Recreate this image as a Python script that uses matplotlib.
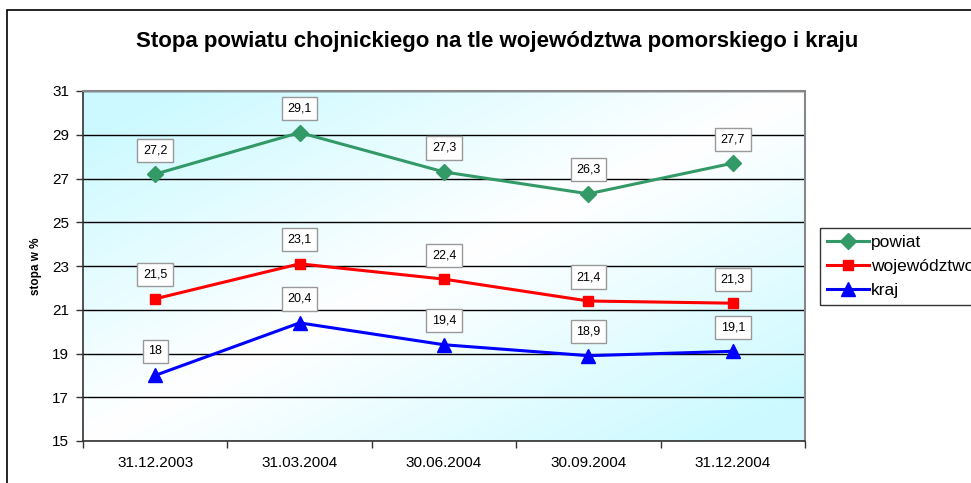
import numpy as np
import matplotlib
matplotlib.use("Agg")
import matplotlib.pyplot as plt
from matplotlib.patches import Rectangle

plt.rcParams['font.family'] = ['Liberation Sans', 'DejaVu Sans']

dates = ['31.12.2003', '31.03.2004', '30.06.2004', '30.09.2004', '31.12.2004']
powiat = [27.2, 29.1, 27.3, 26.3, 27.7]
wojewodztwo = [21.5, 23.1, 22.4, 21.4, 21.3]
kraj = [18.0, 20.4, 19.4, 18.9, 19.1]
labels_powiat = ['27,2', '29,1', '27,3', '26,3', '27,7']
labels_woj = ['21,5', '23,1', '22,4', '21,4', '21,3']
labels_kraj = ['18', '20,4', '19,4', '18,9', '19,1']
y_ticks = [15, 17, 19, 21, 23, 25, 27, 29, 31]


def gradient_background(ax):
    # diagonal gradient: cyan in top-left and bottom-right corners, white across the middle
    xx, yy = np.meshgrid(np.linspace(0, 1, 200), np.linspace(1, 0, 200))
    t = np.clip(np.abs(xx - yy) * 1.15, 0, 1)
    cyan = np.array([0.80, 0.98, 1.0])
    white = np.array([1.0, 1.0, 1.0])
    img = white[None, None, :] * (1 - t[..., None]) + cyan[None, None, :] * t[..., None]
    ax.imshow(img, extent=[0, 1, 0, 1], transform=ax.transAxes, aspect='auto', zorder=0)


def main():
    fig = plt.figure(figsize=(9.71, 4.83), dpi=100)
    fig.patches.append(Rectangle((7 / 971, -0.05), 1.2, 1.05 - 10 / 483, transform=fig.transFigure,
                                 fill=False, edgecolor='black', linewidth=1.2))

    ax = fig.add_axes([83 / 971, 42 / 483, 722 / 971, 350 / 483])
    gradient_background(ax)

    x = np.arange(len(dates))
    series = [
        (powiat, labels_powiat, '#339966', 'D', 8.5, 'powiat'),
        (wojewodztwo, labels_woj, '#ff0000', 's', 7.5, 'województwo'),
        (kraj, labels_kraj, '#0000ff', '^', 9.5, 'kraj'),
    ]
    for vals, labs, clr, mk, ms, name in series:
        ax.plot(x, vals, color=clr, marker=mk, markersize=ms, linewidth=2.2, label=name, zorder=3)
        for xi, v, lab in zip(x, vals, labs):
            ax.annotate(lab, (xi, v), xytext=(0, 24), textcoords='offset pixels',
                        ha='center', va='center', fontsize=9, zorder=4,
                        bbox=dict(boxstyle='square,pad=0.45', facecolor='white', edgecolor='#999999', linewidth=1))

    ax.set_xlim(-0.5, len(dates) - 0.5)
    ax.set_ylim(15, 31)
    ax.set_yticks(y_ticks)
    ax.set_xticks(x)
    ax.set_xticklabels(dates, fontsize=11)
    ax.set_xticks(np.arange(len(dates) + 1) - 0.5, minor=True)
    ax.tick_params(axis='x', which='major', length=0, pad=11)
    ax.tick_params(axis='x', which='minor', length=5, width=1, color='#333333', direction='out')
    ax.tick_params(axis='y', labelsize=11, length=5, width=1, color='#333333', direction='out', pad=5)
    ax.yaxis.grid(True, color='black', linewidth=1)
    ax.set_axisbelow(True)
    for s in ['top', 'right']:
        ax.spines[s].set_color('#888888')
        ax.spines[s].set_linewidth(1.5)
    for s in ['left', 'bottom']:
        ax.spines[s].set_color('#333333')
        ax.spines[s].set_linewidth(1.2)
    ax.set_ylabel('stopa w %', fontsize=8.5, fontweight='bold', labelpad=7)

    fig.text(497 / 971, 1 - 41 / 483, 'Stopa powiatu chojnickiego na tle województwa pomorskiego i kraju',
             ha='center', va='center', fontsize=16, fontweight='bold')

    leg = ax.legend(loc='upper left', bbox_to_anchor=(820 / 971, 1 - 228 / 483),
                    bbox_transform=fig.transFigure, fontsize=12.5, frameon=True, fancybox=False,
                    edgecolor='black', handlelength=2.4, handletextpad=0.15, borderpad=0.4,
                    labelspacing=0.5, borderaxespad=0)
    leg.get_frame().set_linewidth(1)

    fig.savefig('out.png', dpi=100)


if __name__ == '__main__':
    main()
